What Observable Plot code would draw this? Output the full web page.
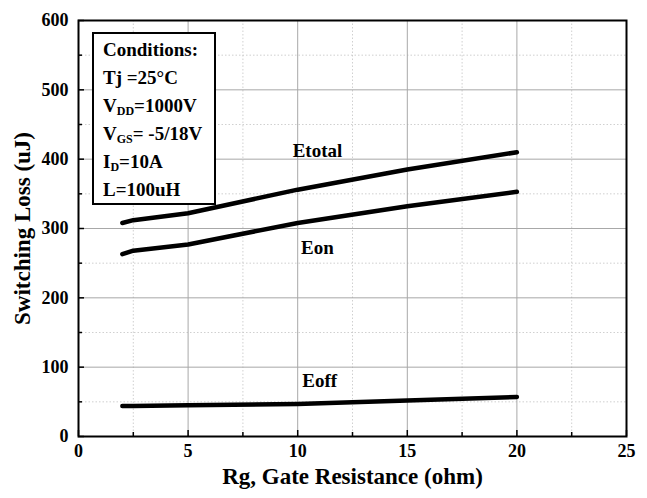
<!DOCTYPE html>
<html>
<head>
<meta charset="utf-8">
<script src="https://cdn.jsdelivr.net/npm/d3@7"></script>
<script src="https://cdn.jsdelivr.net/npm/@observablehq/plot@0.6"></script>
<style>
  html, body { margin: 0; padding: 0; background: #fff; }
  #wrap { position: relative; width: 647px; height: 498px; font-family: "Liberation Serif", "Times New Roman", serif; font-weight: bold; }
  #box { position: absolute; left: 92px; top: 32px; width: 124px; height: 173px; border: 2px solid #000; background: #fff; box-sizing: border-box; padding: 2px 0 0 9px; font-size: 19px; line-height: 28px; color: #000; white-space: nowrap; }
  #box sub { font-size: 12px; vertical-align: -3px; line-height: 0; }
</style>
</head>
<body>
<div id="wrap"></div>
<script>
const rg = [2, 2.5, 5, 10, 15, 20];
const etotal = [308, 312, 322, 356, 385, 410];
const eon = [263, 268, 277, 308, 332, 353];
const eoff = [44, 44, 45, 47, 52, 57];
const seriesNames = ["Etotal", "Eon", "Eoff"];
const labelX = [10.9, 10.9, 11.0];
const labelY = [412, 272, 80];
const xTicks = [0, 5, 10, 15, 20, 25];
const xMinor = [2.5, 7.5, 12.5, 17.5, 22.5];
const yTicks = [0, 100, 200, 300, 400, 500, 600];
const yMinor = [50, 150, 250, 350, 450, 550];
const conditions = ["Conditions:", "Tj =25°C", "V<sub>DD</sub>=1000V", "V<sub>GS</sub>= -5/18V", "I<sub>D</sub>=10A", "L=100uH"];

const rows = [];
[etotal, eon, eoff].forEach((vals, s) => rg.forEach((x, i) => rows.push({series: seriesNames[s], x, y: vals[i]})));
const labels = seriesNames.map((n, i) => ({name: n, x: labelX[i], y: labelY[i]}));

const font = '"Liberation Serif", "Times New Roman", serif';
const chart = Plot.plot({
  width: 647, height: 498,
  marginLeft: 78, marginRight: 21, marginTop: 20, marginBottom: 62,
  style: {fontFamily: font, fontWeight: "bold", fontSize: "18px", color: "#000", background: "#fff"},
  x: {domain: [0, 25]},
  y: {domain: [0, 600]},
  marks: [
    Plot.gridX(xMinor, {stroke: "#c4c4c4", strokeOpacity: 1, strokeDasharray: "1.5,2", strokeWidth: 0.8}),
    Plot.gridY(yMinor, {stroke: "#c4c4c4", strokeOpacity: 1, strokeDasharray: "1.5,2", strokeWidth: 0.8}),
    Plot.gridX(xTicks, {stroke: "#a8a8a8", strokeOpacity: 1, strokeWidth: 1}),
    Plot.gridY(yTicks, {stroke: "#a8a8a8", strokeOpacity: 1, strokeWidth: 1}),
    Plot.axisX(xTicks, {tickSize: 0, tickPadding: 8, fontSize: 18, fontWeight: "bold", fill: "#000", label: null}),
    Plot.axisY(yTicks, {tickSize: 0, tickPadding: 10, fontSize: 18, fontWeight: "bold", fill: "#000", label: null}),
    Plot.ruleX(xTicks, {x: d => d, insetTop: 410, stroke: "#000", strokeWidth: 1.5}),
    Plot.ruleX(xMinor, {x: d => d, insetTop: 412, stroke: "#000", strokeWidth: 1.5}),
    Plot.ruleY(yTicks, {y: d => d, insetRight: 542, stroke: "#000", strokeWidth: 1.5}),
    Plot.ruleY(yMinor, {y: d => d, insetRight: 544, stroke: "#000", strokeWidth: 1.5}),
    Plot.line(rows, {x: "x", y: "y", z: "series", stroke: "#000", strokeWidth: 4.5, curve: "linear", strokeLinecap: "round", strokeLinejoin: "round"}),
    Plot.text(labels, {x: "x", y: "y", text: "name", fontSize: 19, fontWeight: "bold", fill: "#000"}),
    Plot.frame({stroke: "#000", strokeWidth: 2}),
    Plot.text(["Rg, Gate Resistance (ohm)"], {frameAnchor: "bottom", dy: 47, fontSize: 23, fontWeight: "bold", fill: "#000"}),
    Plot.text(["Switching Loss (uJ)"], {frameAnchor: "left", dx: -56, rotate: -90, textAnchor: "middle", fontSize: 23, fontWeight: "bold", fill: "#000"})
  ]
});
const wrap = document.getElementById("wrap");
wrap.appendChild(chart);
const box = document.createElement("div");
box.id = "box";
box.innerHTML = conditions.join("<br>");
wrap.appendChild(box);
</script>
</body>
</html>
